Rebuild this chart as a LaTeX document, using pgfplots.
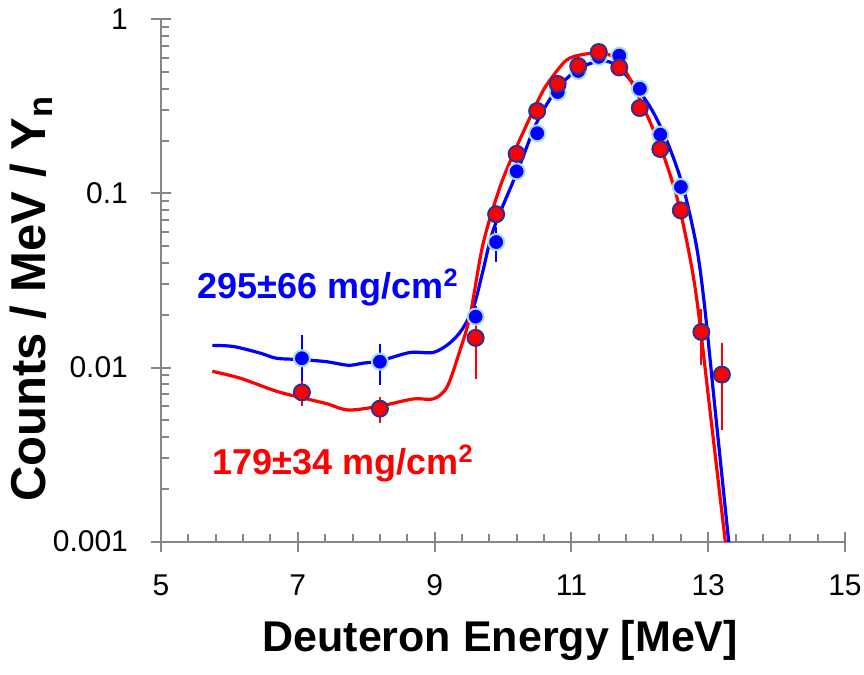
\documentclass[border=0pt]{standalone}
\usepackage{pgfplots}
\pgfplotsset{compat=1.18}
\usepackage{fontspec}
\setmainfont{Liberation Sans}
\definecolor{axgray}{HTML}{868686}
\definecolor{bedge}{HTML}{A8DDE8}
\definecolor{redge}{HTML}{2E3192}
\begin{document}
\begin{tikzpicture}
\begin{axis}[
 at={(0,0)}, anchor=south west,
 scale only axis, width=342pt, height=261pt,
 xmin=5, xmax=15, ymin=0.001, ymax=1, ymode=log,
 axis lines=left, axis line style={axgray, line width=1pt, -},
 xtick={5,7,9,11,13,15}, minor x tick num=4,
 ytick={0.001,0.01,0.1,1}, yticklabels={0.001,0.01,0.1,1},
 minor ytick={0.002,0.003,0.004,0.005,0.006,0.007,0.008,0.009,0.02,0.03,0.04,0.05,0.06,0.07,0.08,0.09,0.2,0.3,0.4,0.5,0.6,0.7,0.8,0.9},
 tick style={axgray, line width=1pt},
 tick align=inside,
 major tick length=10pt, minor tick length=4pt,
 every major x tick/.append style={yshift=-5pt},
 every major y tick/.append style={xshift=-5pt},
 /pgf/number format/assume math mode=true,
 tick label style={font=\fontsize{15}{17}\selectfont},
 xticklabel style={yshift=-13pt},
 yticklabel style={xshift=-13pt},
 xlabel={Deuteron Energy [MeV]},
 ylabel={Counts / MeV / Y\textsubscript{n}},
 xlabel style={font=\bfseries\fontsize{21.5}{24}\selectfont, at={(axis description cs:0.496,-0.19)}, anchor=center},
 ylabel style={font=\bfseries\fontsize{24.5}{27}\selectfont, at={(axis description cs:-0.19,0.465)}, anchor=center},
 clip=true,
]
% curves
\addplot[blue, line width=1.6pt, smooth, tension=0.5] coordinates {
(5.75,0.0134) (6.06,0.0132) (6.45,0.0121) (6.69,0.0113) (7.06,0.0111) (7.42,0.0108)
(7.74,0.0103) (7.96,0.0106) (8.2,0.0109) (8.64,0.0122) (8.98,0.0122) (9.22,0.0138)
(9.40,0.0165) (9.57,0.0223) (9.70,0.035) (9.86,0.062) (10.2,0.131) (10.49,0.254)
(10.78,0.394) (11.08,0.513) (11.37,0.572) (11.61,0.56) (11.86,0.45) (12.15,0.315)
(12.39,0.203) (12.63,0.11) (12.83,0.0495) (12.95,0.022) (13.1,0.0058) (13.3,0.001) (13.33,0.0008)
};
\addplot[red, line width=1.6pt, smooth, tension=0.5] coordinates {
(5.75,0.0095) (6.15,0.0087) (6.69,0.0073) (7.06,0.0067) (7.42,0.0062) (7.74,0.0057)
(8.2,0.0060) (8.69,0.0066) (8.98,0.0066) (9.18,0.0077) (9.37,0.0125) (9.52,0.0200)
(9.71,0.0517) (9.96,0.110) (10.2,0.186) (10.54,0.36) (10.69,0.45) (10.93,0.585)
(11.17,0.63) (11.42,0.64) (11.61,0.61) (11.81,0.49) (12.05,0.315) (12.3,0.186)
(12.54,0.096) (12.73,0.0435) (12.85,0.022) (13.03,0.0055) (13.25,0.001) (13.28,0.0008)
};
% data points
\addplot[only marks, mark=*, mark size=4pt, mark options={fill=blue, draw=bedge, line width=1pt},
 blue, error bars/.cd, y dir=both, y explicit, error mark=none, error bar style={blue, line width=1pt}]
 coordinates {
(7.06,0.0113) +- (0,0.0040)
(8.2,0.0108) +- (0,0.0029)
(9.6,0.0196) +- (0,0.003)
(9.9,0.0526) +- (0,0.012)
(10.2,0.134) +- (0,0)
(10.5,0.222) +- (0,0)
(10.8,0.383) +- (0,0)
(11.1,0.506) +- (0,0)
(11.4,0.61) +- (0,0)
(11.7,0.62) +- (0,0)
(12.0,0.40) +- (0,0)
(12.3,0.218) +- (0,0)
(12.6,0.109) +- (0,0)
};
\addplot[only marks, mark=*, mark size=4pt, mark options={fill=red, draw=redge, line width=1pt},
 red, error bars/.cd, y dir=both, y explicit, error mark=none, error bar style={red, line width=1pt}]
 coordinates {
(7.06,0.0072) +- (0,0.0012)
(8.2,0.0058) +- (0,0.0010)
(9.6,0.0148) +- (0,0.0062)
(9.9,0.076) +- (0,0)
(10.2,0.169) +- (0,0)
(10.5,0.298) +- (0,0)
(10.8,0.426) +- (0,0)
(11.1,0.54) +- (0,0)
(11.4,0.65) +- (0,0)
(11.7,0.53) +- (0,0)
(12.0,0.31) +- (0,0)
(12.3,0.18) +- (0,0)
(12.6,0.080) +- (0,0)
(12.9,0.0160) +- (0,0.0057)
(13.2,0.0091) +- (0,0.0047)
};
\node[anchor=west, inner sep=0pt, text=blue, font=\bfseries\fontsize{18}{20}\selectfont] at (axis cs:5.53,0.0288) {295±66 mg/cm\textsuperscript{2}};
\node[anchor=west, inner sep=0pt, text=red, font=\bfseries\fontsize{18}{20}\selectfont] at (axis cs:5.75,0.0028) {179±34 mg/cm\textsuperscript{2}};
\end{axis}
\pgfresetboundingbox
\useasboundingbox (-80.5pt,-66.5pt) rectangle (351.5pt,270.75pt);
\end{tikzpicture}
\end{document}
